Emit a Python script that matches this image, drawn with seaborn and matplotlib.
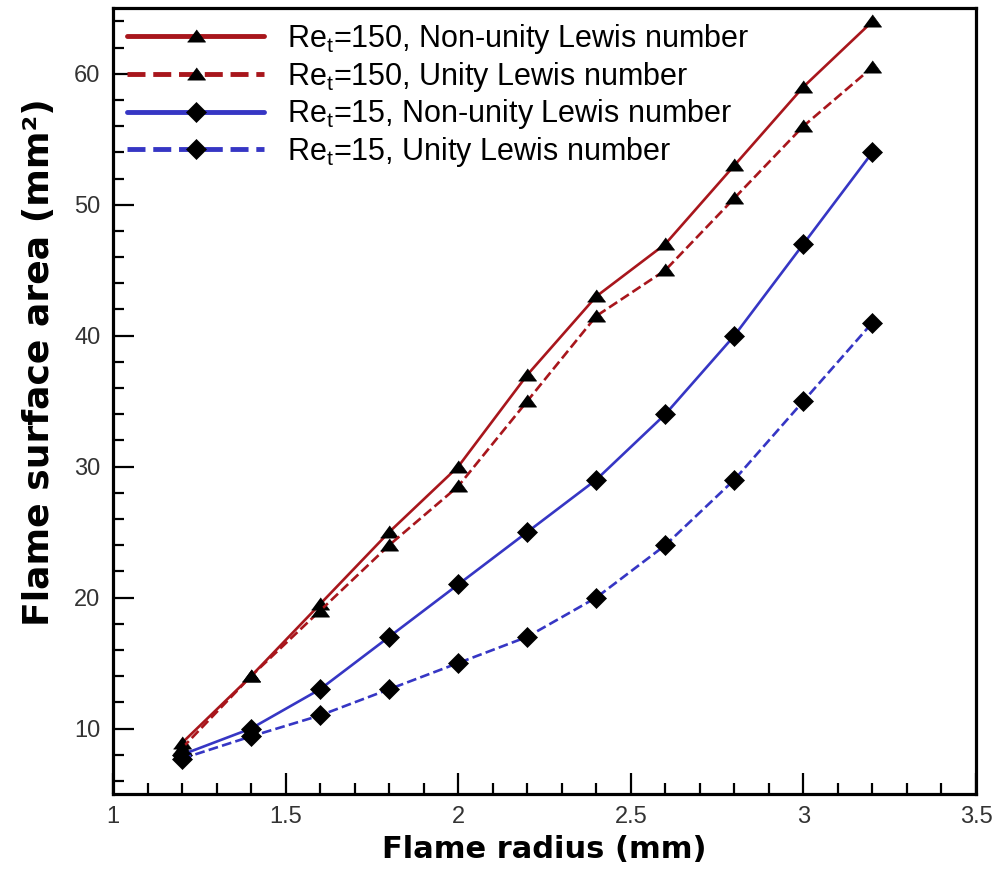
import numpy as np
import pandas as pd
import matplotlib
matplotlib.use("Agg")
import matplotlib.pyplot as plt
import seaborn as sns
from matplotlib.ticker import MultipleLocator

# Datos
radio = [1.2, 1.4, 1.6, 1.8, 2.0, 2.2, 2.4, 2.6, 2.8, 3.0, 3.2]
re150_no_unitario = [8.9, 14, 19.5, 25, 30, 37, 43, 47, 53, 59, 64]
re150_unitario = [8.5, 14, 19, 24, 28.5, 35, 41.5, 45, 50.5, 56, 60.5]
re15_no_unitario = [8, 10, 13, 17, 21, 25, 29, 34, 40, 47, 54]
re15_unitario = [7.7, 9.4, 11, 13, 15, 17, 20, 24, 29, 35, 41]

etiquetas = [
    r"Re$_\mathrm{t}$=150, Non-unity Lewis number",
    r"Re$_\mathrm{t}$=150, Unity Lewis number",
    r"Re$_\mathrm{t}$=15, Non-unity Lewis number",
    r"Re$_\mathrm{t}$=15, Unity Lewis number",
]

sns.set_style("white")
plt.rcParams['font.family'] = ['Liberation Sans', 'DejaVu Sans']
plt.rcParams['mathtext.fontset'] = 'custom'
plt.rcParams['mathtext.rm'] = 'Liberation Sans'
plt.rcParams['mathtext.it'] = 'Liberation Sans:italic'
plt.rcParams['mathtext.bf'] = 'Liberation Sans:bold'
plt.rcParams['text.color'] = 'black'
plt.rcParams['axes.labelcolor'] = 'black'

rojo = '#A8161C'
azul = '#3636C4'
triangulo = [(-1, -0.62), (1, -0.62), (0, 0.74)]

fig = plt.figure(figsize=(10, 8.73), dpi=100)
ax = fig.add_axes([0.113, 0.0905, 0.863, 0.9])

series = [
    (re150_no_unitario, rojo, '-', triangulo, 13),
    (re150_unitario, rojo, '--', triangulo, 13),
    (re15_no_unitario, azul, '-', 'D', 10),
    (re15_unitario, azul, '--', 'D', 10),
]

for (valores, color, estilo, marcador, tam), etiqueta in zip(series, etiquetas):
    df = pd.DataFrame({'r': radio, 'area': valores})
    sns.lineplot(data=df, x='r', y='area', ax=ax, color=color, linestyle=estilo,
                 linewidth=1.9, marker=marcador, markersize=tam,
                 markerfacecolor='black', markeredgecolor='black',
                 markeredgewidth=0.5, label=etiqueta,
                 dashes=(5, 4) if estilo == '--' else '')

ax.set_xlim(1, 3.5)
ax.set_ylim(5, 65)
ax.xaxis.set_major_locator(MultipleLocator(0.5))
ax.xaxis.set_minor_locator(MultipleLocator(0.1))
ax.yaxis.set_major_locator(MultipleLocator(10))
ax.yaxis.set_minor_locator(MultipleLocator(2))
ax.set_xticks([1, 1.5, 2, 2.5, 3, 3.5])
ax.set_xticklabels(['1', '1.5', '2', '2.5', '3', '3.5'])

ax.tick_params(which='both', direction='in', bottom=True, left=True,
               top=False, right=False, colors='black', labelcolor='#333333',
               labelsize=17, width=1.6)
ax.tick_params(which='major', length=15, pad=9)
ax.tick_params(which='minor', length=8)
for s in ax.spines.values():
    s.set_linewidth(2.3)
    s.set_color('black')

# etiquetas de ejes en una fuente mas ancha, como en la figura original
ax.set_xlabel('Flame radius (mm)', fontsize=22, fontweight='bold',
              family='DejaVu Sans', labelpad=5)
ax.set_ylabel('Flame surface area (mm²)', fontsize=26, fontweight='bold',
              family='DejaVu Sans')
ax.yaxis.set_label_coords(-0.066, 0.55)

leg = ax.legend(loc='upper left', bbox_to_anchor=(0.0, 1.0), frameon=False,
                fontsize=22, handlelength=4.5, handletextpad=0.75,
                labelspacing=0.12, borderaxespad=0.05)
for linea in leg.get_lines():
    linea.set_linewidth(3.5)

fig.savefig('out.png', dpi=100)
